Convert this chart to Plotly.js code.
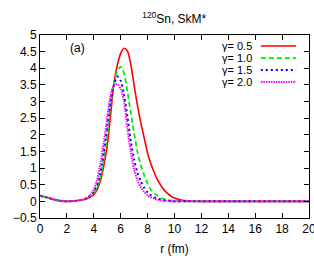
<!DOCTYPE html>
<html>
<head>
<meta charset="utf-8">
<script src="https://cdn.plot.ly/plotly-3.0.1.min.js"></script>
<style>html,body{margin:0;padding:0;background:#fff}#chart{width:314px;height:256px}</style>
</head>
<body>
<div id="chart"></div>
<script>
const seriesNames = ["γ= 0.5", "γ= 1.0", "γ= 1.5", "γ= 2.0"];
const seriesColors = ["#ff0000", "#00ee00", "#0000ff", "#ff00ff"];
const seriesDash = ["solid", "5px,3px", "2px,3px", "1.5px,1px"];

const r = [0, 0.5, 1.0, 1.5, 2.0, 2.5, 3.0, 3.25, 3.5, 3.75, 4.0, 4.25, 4.5, 4.75, 5.0, 5.25, 5.5, 5.75, 6.0, 6.25, 6.5, 6.75, 7.0, 7.25, 7.5, 7.75, 8.0, 8.25, 8.5, 8.75, 9.0, 9.25, 9.5, 9.75, 10.0, 10.5, 11.0, 11.5, 12, 14, 16, 18, 20];

const rho05 = [0.17, 0.12, 0.06, 0.015, 0.0, 0.01, 0.035, 0.05, 0.08, 0.13, 0.2, 0.35, 0.63, 1.08, 1.68, 2.6, 3.55, 4.1, 4.45, 4.6, 4.52, 4.12, 3.48, 2.88, 2.36, 1.9, 1.45, 1.12, 0.86, 0.64, 0.47, 0.33, 0.23, 0.15, 0.1, 0.04, 0.015, 0.005, 0, 0, 0, 0, 0];
const rho10 = [0.17, 0.12, 0.06, 0.015, 0.0, 0.01, 0.038, 0.055, 0.09, 0.15, 0.24, 0.42, 0.75, 1.3, 2.0, 2.9, 3.55, 3.93, 4.05, 3.85, 3.3, 2.65, 2.05, 1.48, 1.07, 0.78, 0.53, 0.35, 0.24, 0.16, 0.1, 0.07, 0.04, 0.025, 0.015, 0.005, 0, 0, 0, 0, 0, 0, 0];
const rho15 = [0.17, 0.12, 0.06, 0.015, 0.0, 0.01, 0.04, 0.06, 0.1, 0.17, 0.29, 0.5, 0.88, 1.5, 2.25, 3.0, 3.5, 3.75, 3.62, 3.2, 2.55, 1.82, 1.25, 0.86, 0.6, 0.4, 0.27, 0.18, 0.12, 0.08, 0.05, 0.03, 0.02, 0.01, 0, 0, 0, 0, 0, 0, 0, 0, 0];
const rho20 = [0.17, 0.12, 0.06, 0.015, 0.0, 0.01, 0.04, 0.065, 0.11, 0.2, 0.36, 0.66, 1.15, 1.78, 2.52, 3.18, 3.5, 3.52, 3.38, 3.0, 2.18, 1.5, 0.95, 0.63, 0.42, 0.28, 0.18, 0.12, 0.08, 0.05, 0.03, 0.02, 0.01, 0.005, 0, 0, 0, 0, 0, 0, 0, 0, 0];

const seriesValues = [rho05, rho10, rho15, rho20];
const seriesWidth = [1.6, 1.8, 2, 2];

const traces = seriesValues.map((v, i) => ({
  x: r, y: v, type: "scatter", mode: "lines", name: seriesNames[i],
  line: {color: seriesColors[i], width: seriesWidth[i], dash: seriesDash[i], shape: "spline", smoothing: 0.8},
  showlegend: false
}));

const legRowY = [0.940, 0.874, 0.809, 0.743];
const annotations = seriesNames.map((n, i) => ({
  xref: "paper", yref: "paper", x: 0.797, y: legRowY[i], text: n, showarrow: false,
  xanchor: "right", yanchor: "middle", font: {size: 11, color: "#000"}
}));
annotations.push({xref: "x", yref: "y", x: 2.8, y: 4.62, text: "(a)", showarrow: false,
  xanchor: "center", yanchor: "middle", font: {size: 12, color: "#000"}});

const shapes = seriesNames.map((n, i) => ({
  type: "line", xref: "paper", yref: "paper", x0: 0.821, x1: 0.952, y0: legRowY[i], y1: legRowY[i],
  line: {color: seriesColors[i], width: seriesWidth[i], dash: seriesDash[i]}
}));

const axisCommon = {
  showgrid: false, zeroline: false, showline: true, linecolor: "#000", linewidth: 1,
  mirror: "ticks", ticks: "inside", ticklen: 5, tickcolor: "#000", tickwidth: 1,
  tickfont: {size: 12, color: "#000"}
};

const layout = {
  width: 314, height: 256,
  margin: {l: 40, r: 5, t: 35, b: 38},
  paper_bgcolor: "#fff", plot_bgcolor: "#fff",
  font: {family: "Liberation Sans, Arial, sans-serif", size: 12, color: "#000"},
  title: {text: "<sup>120</sup>Sn, SkM*", x: 0.555, xanchor: "center", y: 0.925, yanchor: "middle", font: {size: 12, color: "#000"}},
  xaxis: Object.assign({}, axisCommon, {range: [0, 20], dtick: 2, tick0: 0, ticklabeloverflow: "allow",
    title: {text: "r (fm)", font: {size: 12, color: "#000"}, standoff: 12}}),
  yaxis: Object.assign({}, axisCommon, {range: [-0.5, 5], dtick: 0.5, tick0: 0}),
  annotations: annotations,
  shapes: shapes,
  showlegend: false
};

Plotly.newPlot("chart", traces, layout, {staticPlot: true, displayModeBar: false});
</script>
</body>
</html>
